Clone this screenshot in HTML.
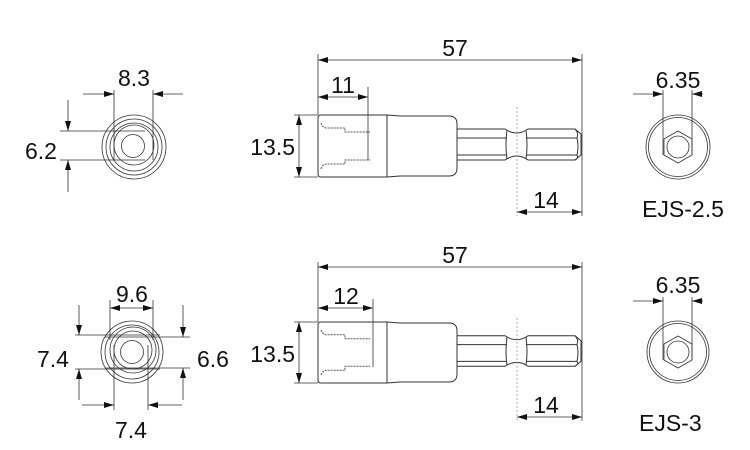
<!DOCTYPE html>
<html><head><meta charset="utf-8"><style>
html,body{margin:0;padding:0;background:#fff;}
svg{display:block;}
text{font-family:"Liberation Sans",sans-serif;font-size:23px;fill:#111;}
</style></head><body>
<svg width="750" height="450" viewBox="0 0 750 450" xmlns="http://www.w3.org/2000/svg">
<defs>
<marker id="a" viewBox="0 0 10 6" refX="10" refY="3" markerWidth="10" markerHeight="6" markerUnits="userSpaceOnUse" orient="auto-start-reverse"><path d="M0,0 L10,3 L0,6 z" fill="#111"/></marker>
<g id="side" fill="none" stroke="#333" stroke-width="1">
  <path d="M321,0 L387,0 L400,1 L449,1 Q457,1 457,9 L457,53 Q457,61 449,61 L400,61 L387,62 L321,62 Q318,62 318,59 L318,3 Q318,0 321,0 Z"/>
  <line x1="387" y1="0" x2="387" y2="62"/>
  <path d="M321,8 Q322,12 326,13 L345,13 L345,17 L370,17" stroke-dasharray="2,1" stroke="#555"/>
  <path d="M321,54 Q322,50 326,49 L345,49 L345,45 L370,45" stroke-dasharray="2,1" stroke="#555"/>
  <path d="M457,14 L505,14 Q517,22 528,14 L575,14 L581,19 L581,40 L575,45 L528,45 Q517,37 505,45 L457,45"/>
  <line x1="457" y1="23" x2="507" y2="23"/><line x1="526" y1="23" x2="577" y2="23"/>
  <line x1="457" y1="40" x2="507" y2="40"/><line x1="526" y1="40" x2="577" y2="40"/>
  <path d="M507,15 Q505,31 507,44 M526,15 Q528,31 526,44"/>
  <path d="M575,14 Q579,18 577,23 Q579,31 577,40 Q579,43 575,45"/>
</g>
</defs>

<use href="#side" transform="translate(0,115)"/>
<g stroke="#333" stroke-width="0.8" fill="none">
  <line x1="318" y1="54" x2="318" y2="115"/>
  <line x1="582" y1="54" x2="582" y2="216"/>
  <line x1="318" y1="60" x2="582" y2="60" marker-start="url(#a)" marker-end="url(#a)"/>
  <line x1="368" y1="87" x2="368" y2="160"/>
  <line x1="318" y1="97" x2="368" y2="97" marker-start="url(#a)" marker-end="url(#a)"/>
  <line x1="294" y1="115" x2="318" y2="115"/><line x1="294" y1="177" x2="318" y2="177"/>
  <line x1="299" y1="115" x2="299" y2="177" marker-start="url(#a)" marker-end="url(#a)"/>
  <line x1="517" y1="107" x2="517" y2="216" stroke-dasharray="2,2" stroke="#999"/>
  <line x1="517" y1="212" x2="582" y2="212" marker-start="url(#a)" marker-end="url(#a)"/>
</g>
<text x="455" y="56" text-anchor="middle">57</text>
<text x="343" y="93" text-anchor="middle">11</text>
<text x="295" y="155" text-anchor="end">13.5</text>
<text x="546" y="208" text-anchor="middle">14</text>

<use href="#side" transform="translate(0,322) scale(1,0.984)"/>
<g stroke="#333" stroke-width="0.8" fill="none">
  <line x1="318" y1="262" x2="318" y2="322"/>
  <line x1="582" y1="262" x2="582" y2="421"/>
  <line x1="318" y1="267" x2="582" y2="267" marker-start="url(#a)" marker-end="url(#a)"/>
  <line x1="373" y1="299" x2="373" y2="367"/>
  <line x1="318" y1="308" x2="373" y2="308" marker-start="url(#a)" marker-end="url(#a)"/>
  <line x1="294" y1="322" x2="318" y2="322"/><line x1="294" y1="383" x2="318" y2="383"/>
  <line x1="299" y1="322" x2="299" y2="383" marker-start="url(#a)" marker-end="url(#a)"/>
  <line x1="517" y1="318" x2="517" y2="421" stroke-dasharray="2,2" stroke="#999"/>
  <line x1="517" y1="417" x2="582" y2="417" marker-start="url(#a)" marker-end="url(#a)"/>
</g>
<text x="455" y="263" text-anchor="middle">57</text>
<text x="346" y="304" text-anchor="middle">12</text>
<text x="295" y="362" text-anchor="end">13.5</text>
<text x="546" y="413" text-anchor="middle">14</text>

<g stroke="#333" stroke-width="0.8" fill="none">
  <circle cx="134" cy="147" r="32"/><circle cx="134" cy="147" r="28"/>
  <circle cx="134" cy="147" r="24"/><circle cx="134" cy="145" r="20"/>
  <circle cx="133" cy="146" r="11.5"/>
  <line x1="114" y1="90" x2="114" y2="160"/><line x1="153" y1="90" x2="153" y2="160"/>
  <line x1="83" y1="94" x2="114" y2="94" marker-end="url(#a)"/>
  <line x1="183" y1="94" x2="153" y2="94" marker-end="url(#a)"/>
  <line x1="60" y1="131" x2="145" y2="131"/><line x1="60" y1="160" x2="145" y2="160"/>
  <line x1="68" y1="100" x2="68" y2="131" marker-end="url(#a)"/>
  <line x1="68" y1="192" x2="68" y2="160" marker-end="url(#a)"/>
</g>
<text x="134" y="86" text-anchor="middle">8.3</text>
<text x="41" y="159" text-anchor="middle">6.2</text>

<g stroke="#333" stroke-width="0.8" fill="none">
  <circle cx="132" cy="352" r="31"/><circle cx="132" cy="352" r="27"/>
  <circle cx="133" cy="350" r="23"/><circle cx="133" cy="350" r="19"/>
  <circle cx="132" cy="352" r="11.5"/>
  <line x1="110" y1="300" x2="110" y2="340"/><line x1="153" y1="300" x2="153" y2="340"/>
  <line x1="110" y1="308" x2="153" y2="308" marker-start="url(#a)" marker-end="url(#a)"/>
  <line x1="75" y1="335" x2="160" y2="335"/><line x1="75" y1="369" x2="160" y2="369"/>
  <line x1="79" y1="305" x2="79" y2="335" marker-end="url(#a)"/>
  <line x1="79" y1="400" x2="79" y2="369" marker-end="url(#a)"/>
  <line x1="105" y1="337" x2="190" y2="337"/><line x1="105" y1="368" x2="190" y2="368"/>
  <line x1="183" y1="305" x2="183" y2="337" marker-end="url(#a)"/>
  <line x1="183" y1="400" x2="183" y2="368" marker-end="url(#a)"/>
  <line x1="114" y1="345" x2="114" y2="410"/><line x1="148" y1="345" x2="148" y2="410"/>
  <line x1="82" y1="405" x2="114" y2="405" marker-end="url(#a)"/>
  <line x1="182" y1="405" x2="148" y2="405" marker-end="url(#a)"/>
</g>
<text x="132" y="302" text-anchor="middle">9.6</text>
<text x="53" y="367" text-anchor="middle">7.4</text>
<text x="213" y="367" text-anchor="middle">6.6</text>
<text x="131" y="438" text-anchor="middle">7.4</text>

<g stroke="#333" stroke-width="0.8" fill="none">
  <circle cx="678" cy="147" r="32"/><circle cx="678" cy="147" r="29.5"/>
  <polygon points="678,131 692,139 692,155 678,163 664,155 664,139"/>
  <circle cx="678" cy="147" r="11"/>
  <line x1="663" y1="90" x2="663" y2="155"/><line x1="692" y1="90" x2="692" y2="155"/>
  <line x1="633" y1="94" x2="663" y2="94" marker-end="url(#a)"/>
  <line x1="703" y1="94" x2="692" y2="94" marker-end="url(#a)"/>
</g>
<text x="678" y="88" text-anchor="middle">6.35</text>
<text x="683" y="217" text-anchor="middle">EJS-2.5</text>

<g stroke="#333" stroke-width="0.8" fill="none">
  <circle cx="678" cy="352" r="31"/><circle cx="678" cy="352" r="28.5"/>
  <polygon points="678,336 692,344 692,360 678,368 664,360 664,344"/>
  <circle cx="678" cy="352" r="11"/>
  <line x1="663" y1="297" x2="663" y2="360"/><line x1="692" y1="297" x2="692" y2="360"/>
  <line x1="633" y1="301" x2="663" y2="301" marker-end="url(#a)"/>
  <line x1="703" y1="301" x2="692" y2="301" marker-end="url(#a)"/>
</g>
<text x="678" y="293" text-anchor="middle">6.35</text>
<text x="639" y="431">EJS-3</text>
</svg>
</body></html>
